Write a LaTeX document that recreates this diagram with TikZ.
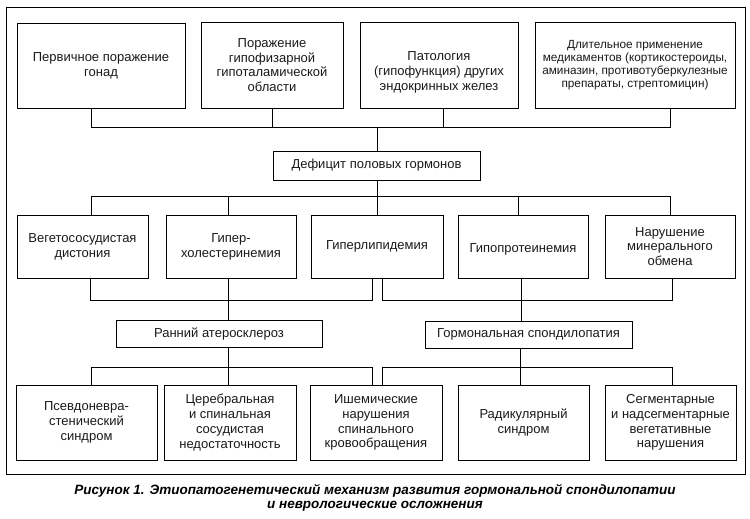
\documentclass[tikz,border=0pt]{standalone}
\usepackage{fontspec}
\setmainfont{Liberation Sans}
\begin{document}
\begin{tikzpicture}[x=1pt,y=-1pt,
  box/.style 2 args={draw, rectangle, line width=0.8pt, minimum width=#1pt, minimum height=#2pt, inner sep=1pt, align=center, font=\fontsize{13}{14.8}\selectfont, text=black!90},
  conn/.style={line width=0.7pt},
]
\useasboundingbox (0,0) rectangle (750,519);
\draw[line width=1pt] (6,8) rectangle (745,474);
% top row
\node[box={168}{85}] (t1) at (101,65.5) {Первичное поражение\\гонад};
\node[box={142}{86}] (t2) at (272,65) {Поражение\\гипофизарной\\гипоталамической\\области};
\node[box={158}{86}, text height=53pt] (t3) at (439,65) {Патология\\(гипофункция) других\\эндокринных желез};
\node[box={200}{86}, font=\fontsize{11.8}{13}\selectfont] (t4) at (635,65) {Длительное применение\\медикаментов (кортикостероиды,\\аминазин, противотуберкулезные\\препараты, стрептомицин)};
\node[box={207}{29}] (def) at (376.5,165.5) {Дефицит половых гормонов};
% middle row
\node[box={131}{63}] (m1) at (82.5,246.5) {Вегетососудистая\\дистония};
\node[box={130}{63}] (m2) at (231,246.5) {Гипер-\\холестеринемия};
\node[box={132}{63}] (m3) at (377,246.5) {Гиперлипидемия};
\node[box={130}{63}, text height=15.5pt] (m4) at (523,246.5) {Гипопротеинемия};
\node[box={130}{63}] (m5) at (670,246.5) {Нарушение\\минерального\\обмена};
\node[box={206}{27}] (ran) at (219,334) {Ранний атеросклероз};
\node[box={207}{27}] (gor) at (528.5,334.5) {Гормональная спондилопатия};
% bottom row
\node[box={141}{75}] (b1) at (86.5,422.5) {Псевдоневра-\\стенический\\синдром};
\node[box={132}{75}] (b2) at (230,422.5) {Церебральная\\и спинальная\\сосудистая\\недостаточность};
\node[box={132}{75}] (b3) at (376,422.5) {Ишемические\\нарушения\\спинального\\кровообращения};
\node[box={131}{75}] (b4) at (523.5,422.5) {Радикулярный\\синдром};
\node[box={131}{75}] (b5) at (670.5,422.5) {Сегментарные\\и надсегментарные\\вегетативные\\нарушения};
% connector coordinates
\coordinate (tb1) at (91,127); \coordinate (tb2) at (272,127);
\coordinate (tb3) at (443,127); \coordinate (tb4) at (670,127);
\coordinate (tbd) at (377,127);
\coordinate (mb1) at (91,196); \coordinate (mb2) at (228,196);
\coordinate (mb3) at (377,196); \coordinate (mb4) at (518,196);
\coordinate (mb5) at (670,196);
\coordinate (la1) at (90,300); \coordinate (la2) at (228,300); \coordinate (la3) at (372,300);
\coordinate (ra1) at (382,300); \coordinate (ra2) at (521,300); \coordinate (ra3) at (672,300);
\coordinate (lb1) at (91,367); \coordinate (lb2) at (228,367); \coordinate (lb3) at (372,367);
\coordinate (rb1) at (382,367); \coordinate (rb2) at (520,367); \coordinate (rb3) at (672,367);
% top connectors
\draw[conn] (t1.south -| tb1) -- (tb1) -- (tb4) -- (t4.south -| tb4);
\draw[conn] (t2.south -| tb2) -- (tb2);
\draw[conn] (t3.south -| tb3) -- (tb3);
\draw[conn] (tbd) -- (def.north -| tbd);
% middle connectors
\draw[conn] (def.south -| mb3) -- (m3.north -| mb3);
\draw[conn] (m1.north -| mb1) -- (mb1) -- (mb5) -- (m5.north -| mb5);
\draw[conn] (mb2) -- (m2.north -| mb2);
\draw[conn] (mb4) -- (m4.north -| mb4);
% lower connectors
\draw[conn] (m1.south -| la1) -- (la1) -- (la3) -- (m3.south -| la3);
\draw[conn] (m2.south -| la2) -- (ran.north -| la2);
\draw[conn] (m3.south -| ra1) -- (ra1) -- (ra3) -- (m5.south -| ra3);
\draw[conn] (m4.south -| ra2) -- (gor.north -| ra2);
% bottom connectors
\draw[conn] (b1.north -| lb1) -- (lb1) -- (lb3) -- (b3.north -| lb3);
\draw[conn] (ran.south -| lb2) -- (b2.north -| lb2);
\draw[conn] (b3.north -| rb1) -- (rb1) -- (rb3) -- (b5.north -| rb3);
\draw[conn] (gor.south -| rb2) -- (b4.north -| rb2);
% caption
\node[align=center, font=\fontsize{13.5}{14}\selectfont\bfseries\itshape, inner sep=0pt] (cap) at (375,498) {Рисунок 1. Этиопатогенетический механизм развития гормональной спондилопатии\\и неврологические осложнения};
\end{tikzpicture}
\end{document}
